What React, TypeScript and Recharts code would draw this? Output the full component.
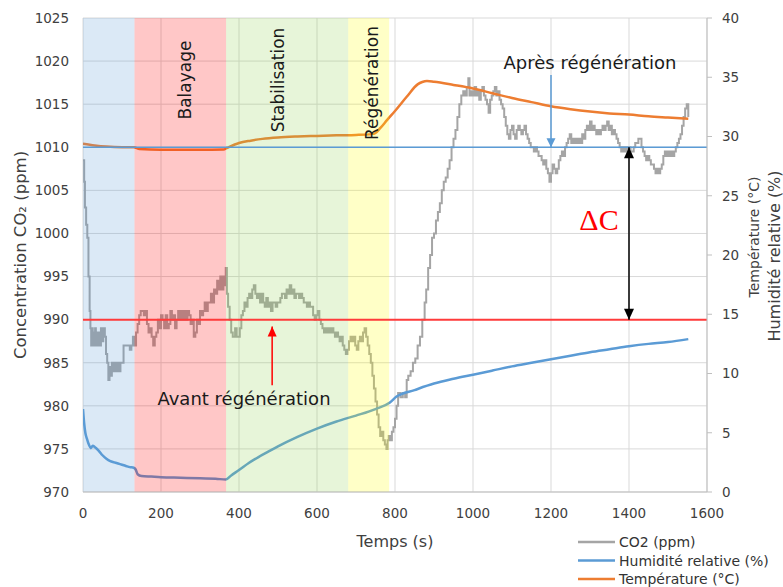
import React from "react";
import { LineChart, Line, XAxis, YAxis, CartesianGrid, ReferenceArea, ReferenceLine } from "recharts";

// axis ticks
const timeTicks = [0, 200, 400, 600, 800, 1000, 1200, 1400, 1600];
const co2Ticks = [970, 975, 980, 985, 990, 995, 1000, 1005, 1010, 1015, 1020, 1025];
const rightTicks = [0, 5, 10, 15, 20, 25, 30, 35, 40];

// phases (s)
const phaseNames = ["", "Balayage", "Stabilisation", "Régénération"];
const phaseStart = [0, 132, 367, 680];
const phaseEnd = [132, 367, 680, 785];

// reference levels (ppm)
const levelBefore = 990;
const levelAfter = 1010;

// CO2 (ppm) vs time (s)
const co2Time = [
  0, 3, 5, 8, 11, 14, 17, 19, 21, 23, 25, 27, 29, 31, 33, 35, 37, 40, 43, 46, 49, 52, 56, 59, 62, 65, 68, 71, 74, 77,
  80, 84, 88, 92, 96, 100, 104, 110, 116, 120, 124, 128, 132, 136, 140, 144, 148, 152, 156, 160, 164, 168, 172, 176,
  180, 184, 188, 192, 196, 200, 204, 208, 212, 216, 220, 224, 228, 232, 236, 240, 244, 248, 252, 256, 260, 264, 268,
  272, 276, 280, 284, 288, 292, 296, 300, 304, 308, 312, 316, 320, 324, 328, 332, 336, 340, 344, 348, 352, 356, 360,
  364, 366, 369, 372, 376, 380, 384, 390, 394, 398, 402, 406, 410, 414, 418, 422, 426, 430, 434, 438, 442, 446, 450,
  454, 458, 462, 466, 470, 474, 478, 482, 486, 490, 494, 498, 502, 506, 510, 514, 518, 522, 526, 530, 534, 538, 542,
  546, 550, 554, 558, 562, 566, 570, 574, 578, 582, 586, 590, 594, 598, 602, 606, 610, 614, 618, 622, 626, 630, 634,
  638, 642, 646, 650, 654, 658, 662, 666, 670, 674, 678, 682, 686, 690, 694, 698, 702, 706, 710, 714, 718, 722, 726,
  730, 734, 738, 742, 746, 750, 754, 758, 762, 766, 770, 774, 778, 781, 784, 788, 792, 796, 800, 804, 808, 814, 820,
  826, 830, 834, 840, 846, 852, 858, 864, 870, 876, 880, 885, 890, 895, 900, 905, 910, 915, 920, 925, 930, 935, 940,
  945, 950, 955, 960, 965, 970, 975, 980, 984, 988, 991, 995, 1000, 1004, 1008, 1012, 1016, 1020, 1024, 1028, 1032,
  1036, 1040, 1044, 1048, 1052, 1056, 1060, 1064, 1068, 1072, 1076, 1080, 1084, 1088, 1092, 1096, 1100, 1104, 1108,
  1112, 1116, 1120, 1124, 1128, 1132, 1136, 1140, 1144, 1148, 1152, 1156, 1160, 1164, 1168, 1172, 1176, 1180, 1184,
  1188, 1192, 1196, 1200, 1204, 1208, 1212, 1216, 1220, 1224, 1228, 1232, 1236, 1240, 1244, 1248, 1252, 1256, 1260,
  1264, 1268, 1272, 1276, 1280, 1284, 1288, 1292, 1296, 1300, 1304, 1308, 1312, 1316, 1320, 1324, 1328, 1332, 1336,
  1340, 1344, 1348, 1352, 1356, 1360, 1364, 1368, 1372, 1376, 1380, 1384, 1388, 1392, 1396, 1400, 1404, 1408, 1412,
  1416, 1420, 1424, 1428, 1432, 1436, 1440, 1444, 1448, 1452, 1456, 1460, 1464, 1468, 1472, 1476, 1480, 1484, 1488,
  1492, 1496, 1500, 1504, 1508, 1512, 1516, 1520, 1524, 1528, 1532, 1536, 1540, 1544, 1548, 1552,
];
const co2Ppm = [
  1008.5, 1006, 1003, 1001, 999.5, 995, 991, 989, 987, 989, 987, 988.5, 987, 989, 987, 988.5, 987, 988.5, 987, 989,
  987.5, 989, 988, 986, 985, 983, 984.5, 983.5, 985, 984, 985, 984, 985, 984, 985, 985, 987, 987, 987, 986.5, 987, 988,
  987, 988.5, 989.5, 990.5, 991, 991, 990.5, 991, 989.5, 988.5, 989, 988, 987, 988, 988.5, 990, 989, 990.5, 990, 989,
  990.5, 989, 989.5, 991, 990, 990.5, 989, 990, 991, 990, 991, 990, 991, 990, 991, 990.5, 989.5, 990, 988, 988.5, 990,
  989.5, 991, 990.5, 991, 992, 991, 992, 992, 993, 992, 993.5, 993, 994.5, 993.5, 995, 993.5, 995, 994, 996, 993,
  991.5, 990, 988.5, 988, 989, 988, 988, 989, 990.5, 991, 992, 991.5, 992.5, 993, 992.5, 993.5, 994, 993, 992.5, 993,
  992, 993, 992, 991.5, 992.5, 991.5, 992, 991, 992, 992, 991.5, 992, 992, 992.5, 993, 993, 992.5, 993.5, 993, 994,
  993, 993.5, 992.5, 993, 993, 992.5, 993, 992.5, 992, 992, 991.5, 992, 991.5, 991.5, 990.5, 990, 990.5, 991, 990,
  989.5, 989, 988.5, 989, 988.5, 989, 988.5, 989, 988.5, 988, 988.5, 988, 987.5, 988, 987, 986.5, 986, 986.5, 987.5,
  988, 987.5, 988, 987, 986.5, 987.5, 988, 987.5, 988.5, 989, 988, 987, 986, 985, 983.5, 982, 980.5, 979, 977.5, 976.5,
  977, 976, 975.5, 975, 976, 976.5, 976, 977, 977.5, 978.5, 980, 981.5, 981, 981.5, 981, 983, 983.5, 984, 985, 985.5,
  987, 988, 990, 992, 993.5, 996, 997.5, 999.5, 1000, 1001.5, 1002.5, 1003.5, 1005, 1006, 1006.5, 1007.5, 1008.5, 1010,
  1011, 1012, 1013.5, 1015, 1016, 1016.5, 1016, 1017, 1018, 1016, 1016.5, 1016, 1017, 1016, 1016.5, 1015.5, 1016.5,
  1017, 1016, 1015.5, 1015, 1014, 1015.5, 1016, 1016.5, 1017, 1016, 1016.5, 1015.5, 1015, 1014.5, 1013.5, 1012.5,
  1011.5, 1011, 1012, 1012.5, 1011.5, 1011, 1012, 1012.5, 1012, 1011.5, 1012, 1012.5, 1011.5, 1011, 1010.5, 1010, 1010,
  1009.5, 1010, 1009.5, 1009, 1009, 1008.5, 1008, 1008.5, 1007.5, 1007, 1006, 1007, 1008, 1007.5, 1007, 1007.5, 1008.5,
  1009, 1009.5, 1009, 1010, 1010.5, 1011, 1011.5, 1010.5, 1011, 1010.5, 1011, 1010.5, 1011, 1010.5, 1011.5, 1011, 1012,
  1012.5, 1012, 1013, 1012, 1012.5, 1012, 1011.5, 1012, 1011.5, 1012, 1012.5, 1012, 1012.5, 1013, 1012, 1012.5, 1011.5,
  1012, 1011.5, 1011, 1010.5, 1010, 1009.5, 1010, 1009.5, 1010, 1009.5, 1010, 1009.5, 1009.5, 1010, 1010.5, 1010.5,
  1011, 1011, 1010, 1009.5, 1009, 1008.5, 1009, 1008.5, 1008, 1008, 1007.5, 1007, 1007.5, 1007, 1007.5, 1008, 1009,
  1009.5, 1009, 1009.5, 1009, 1009.5, 1009, 1009.5, 1010, 1010.5, 1011, 1011.5, 1012.5, 1013.5, 1014.5, 1015, 1013.5,
];

// relative humidity (%)
const rhTime = [
  0, 3, 6, 10, 15, 20, 25, 30, 40, 50, 60, 70, 80, 90, 100, 110, 120, 130, 135, 140, 150, 175, 200, 250, 300, 340,
  366, 380, 400, 425, 450, 475, 500, 550, 600, 650, 700, 750, 787, 804, 850, 900, 950, 1000, 1050, 1100, 1150, 1200,
  1250, 1300, 1350, 1400, 1450, 1500, 1552,
];
const rhValue = [
  7.0, 5.8, 5.0, 4.5, 4.0, 3.7, 3.9, 3.8, 3.5, 3.1, 2.8, 2.6, 2.5, 2.4, 2.3, 2.2, 2.1, 2.05, 1.9, 1.5, 1.35, 1.3,
  1.25, 1.2, 1.15, 1.12, 1.05, 1.4, 1.85, 2.45, 2.95, 3.4, 3.85, 4.65, 5.35, 5.95, 6.45, 7.0, 7.55, 8.05, 8.6, 9.15,
  9.55, 9.9, 10.25, 10.6, 10.9, 11.2, 11.5, 11.8, 12.05, 12.3, 12.5, 12.65, 12.9,
];

// temperature (°C)
const tempTime = [
  0, 30, 60, 100, 130, 145, 200, 300, 360, 370, 400, 430, 460, 500, 550, 600, 650, 700, 740, 750, 762, 780, 800, 830,
  858, 870, 882, 900, 950, 1000, 1050, 1100, 1150, 1200, 1250, 1300, 1350, 1400, 1450, 1500, 1552,
];
const tempValue = [
  29.4, 29.25, 29.15, 29.1, 29.1, 28.95, 28.88, 28.88, 28.9, 29.05, 29.45, 29.65, 29.8, 29.92, 30.0, 30.05, 30.1,
  30.13, 30.2, 30.3, 30.7, 31.4, 32.15, 33.35, 34.4, 34.6, 34.68, 34.62, 34.35, 34.05, 33.65, 33.25, 32.9, 32.55, 32.3,
  32.1, 31.95, 31.85, 31.7, 31.6, 31.5,
];

const co2Data = co2Time.map((t, i) => ({ t, v: co2Ppm[i] }));
const rhData = rhTime.map((t, i) => ({ t, v: rhValue[i] }));
const tempData = tempTime.map((t, i) => ({ t, v: tempValue[i] }));

const GREY = "#A5A5A5";
const BLUE = "#5B9BD5";
const ORANGE = "#ED7D31";
const phaseColors = ["#5B9BD5", "#FF0000", "#92D050", "#FFFF00"];
const FONT = "'DejaVu Sans', Verdana, sans-serif";
const tickStyle = { fontFamily: FONT, fontSize: 13.5, fill: "#404040" };

// vertical arrow drawn on a reference segment; heads: "start" | "end" | "both"
const arrowShape = (color: string, heads: string, w = 9, h = 10) => (p: any) => {
  const { x1, y1, x2, y2 } = p;
  const head = (tx: number, ty: number, fx: number, fy: number) => {
    const dir = ty > fy ? 1 : -1;
    return <polygon points={`${tx},${ty} ${tx - w / 2},${ty - dir * h} ${tx + w / 2},${ty - dir * h}`} fill={color} />;
  };
  return (
    <g>
      <line x1={x1} y1={y1} x2={x2} y2={y2} stroke={color} strokeWidth={1.5} />
      {(heads === "end" || heads === "both") && head(x2, y2, x1, y1)}
      {(heads === "start" || heads === "both") && head(x1, y1, x2, y2)}
    </g>
  );
};

export default function App() {
  return (
    <div style={{ position: "absolute", left: 0, top: 0, width: 783, height: 587, background: "#fff" }}>
      <LineChart width={783} height={587} margin={{ top: 18, right: 0, bottom: 0, left: 0 }}>
        <CartesianGrid yAxisId="left" stroke="#D9D9D9" strokeWidth={1} />
        <XAxis
          dataKey="t"
          type="number"
          domain={[0, 1600]}
          ticks={timeTicks}
          allowDataOverflow
          height={95}
          tickLine={false}
          tickSize={0}
          tickMargin={16}
          axisLine={{ stroke: "#BFBFBF" }}
          tick={tickStyle}
        />
        <YAxis
          yAxisId="left"
          domain={[970, 1025]}
          ticks={co2Ticks}
          allowDataOverflow
          width={83}
          axisLine={false}
          tickLine={false}
          tickSize={0}
          tickMargin={14}
          tick={tickStyle}
        />
        <YAxis
          yAxisId="right"
          orientation="right"
          domain={[0, 40]}
          ticks={rightTicks}
          allowDataOverflow
          width={76}
          axisLine={{ stroke: "#BFBFBF" }}
          tickLine={{ stroke: "#BFBFBF" }}
          tickSize={5}
          tickMargin={10}
          tick={tickStyle}
        />
        <Line data={co2Data} dataKey="v" yAxisId="left" type="stepAfter" stroke={GREY} strokeWidth={2} dot={false} isAnimationActive={false} />
        <Line data={rhData} dataKey="v" yAxisId="right" type="monotone" stroke={BLUE} strokeWidth={2.5} dot={false} isAnimationActive={false} />
        <Line data={tempData} dataKey="v" yAxisId="right" type="monotone" stroke={ORANGE} strokeWidth={2.5} dot={false} isAnimationActive={false} />
        {phaseStart.map((s, i) => (
          <ReferenceArea
            key={i}
            yAxisId="left"
            x1={s}
            x2={phaseEnd[i]}
            fill={phaseColors[i]}
            fillOpacity={0.22}
            stroke="none"
            zIndex={450}
          />
        ))}
        <ReferenceLine yAxisId="left" y={levelAfter} stroke={BLUE} strokeWidth={1.5} zIndex={460} />
        <ReferenceLine yAxisId="left" y={levelBefore} stroke="#FF3B3B" strokeWidth={2} zIndex={460} />
        <ReferenceLine
          yAxisId="left"
          segment={[{ x: 1200, y: 1018.4 }, { x: 1200, y: levelAfter }]}
          shape={arrowShape(BLUE, "end", 9, 9)}
          zIndex={470}
        />
        <ReferenceLine
          yAxisId="left"
          segment={[{ x: 1400, y: levelAfter }, { x: 1400, y: levelBefore }]}
          shape={arrowShape("#000", "both", 10, 11)}
          zIndex={470}
        />
        <ReferenceLine
          yAxisId="left"
          segment={[{ x: 485, y: 982.4 }, { x: 485, y: 989.2 }]}
          shape={arrowShape("#FF0000", "end", 9, 10)}
          zIndex={470}
        />
      </LineChart>
      <svg
        width={783}
        height={587}
        style={{ position: "absolute", left: 0, top: 0, pointerEvents: "none" }}
        fontFamily={FONT}
      >
        {/* phase labels */}
        {[185, 278, 372].map((x, i) => (
          <text
            key={i}
            transform={`translate(${x},${[80, 80, 83][i]}) rotate(-90)`}
            textAnchor="middle"
            dominantBaseline="central"
            fontSize={17}
            fill="#1a1a1a"
          >
            {phaseNames[i + 1]}
          </text>
        ))}
        <text x={590} y={62} textAnchor="middle" dominantBaseline="central" fontSize={18} fill="#1a1a1a">
          Après régénération
        </text>
        <text x={244} y={398} textAnchor="middle" dominantBaseline="central" fontSize={18} fill="#1a1a1a">
          Avant régénération
        </text>
        <text x={599} y={230} textAnchor="middle" fontFamily="'Liberation Serif', serif" fontSize={30} fill="#FF0000">
          ΔC
        </text>
        {/* axis titles */}
        <text x={395} y={541} textAnchor="middle" dominantBaseline="central" fontSize={16} fill="#404040">
          Temps (s)
        </text>
        <text transform="translate(20,255) rotate(-90)" textAnchor="middle" dominantBaseline="central" fontSize={16.5} fill="#404040">
          Concentration CO₂ (ppm)
        </text>
        <text transform="translate(754,237) rotate(-90)" textAnchor="middle" dominantBaseline="central" fontSize={14} fill="#404040">
          Température (°C)
        </text>
        <text transform="translate(774,256) rotate(-90)" textAnchor="middle" dominantBaseline="central" fontSize={16} fill="#404040">
          Humidité relative (%)
        </text>
        {/* legend */}
        {[
          ["CO2 (ppm)", GREY],
          ["Humidité relative (%)", BLUE],
          ["Température (°C)", ORANGE],
        ].map(([label, color], i) => (
          <g key={label}>
            <line x1={578} x2={615} y1={542 + i * 18.5} y2={542 + i * 18.5} stroke={color} strokeWidth={2.5} />
            <text x={619} y={542 + i * 18.5} dominantBaseline="central" fontSize={14} fill="#333">
              {label}
            </text>
          </g>
        ))}
      </svg>
    </div>
  );
}
